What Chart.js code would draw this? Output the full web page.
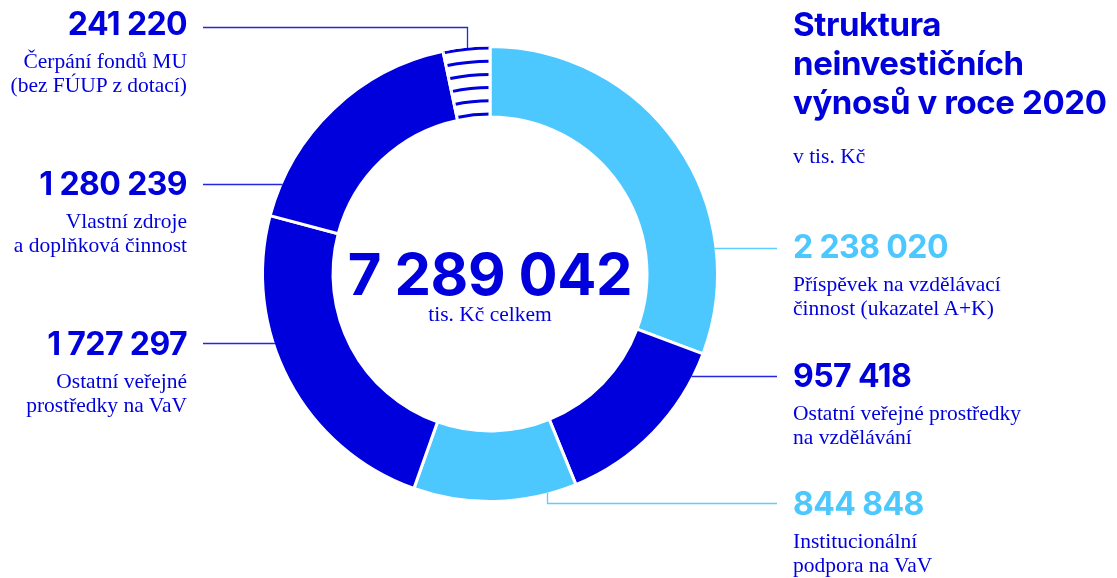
<!DOCTYPE html>
<html lang="cs">
<head>
<meta charset="utf-8">
<title>Struktura neinvestičních výnosů v roce 2020</title>
<script src="https://cdn.jsdelivr.net/npm/chart.js@4.4.1/dist/chart.umd.min.js"></script>
<style>
  html, body { margin: 0; padding: 0; background: #fff; }
  #wrap { position: relative; width: 1117px; height: 578px; overflow: hidden; color: #0000dc; }
  #chart { position: absolute; left: 0; top: 0; }
  .num { font-family: Inter, 'Noto Sans', sans-serif; font-weight: 700; font-size: 32px; line-height: 32px; letter-spacing: -0.6px; white-space: nowrap; }
  .desc { font-family: 'Liberation Serif', serif; font-size: 21.5px; line-height: 24px; margin-top: 9px; white-space: nowrap; }
  .label { position: absolute; }
  .label.left { right: 930px; text-align: right; }
  .label.right { left: 793px; text-align: left; }
  #title { position: absolute; left: 793px; top: 5px; font-family: Inter, sans-serif; font-weight: 700; font-size: 33px; line-height: 39px; letter-spacing: -0.4px; }
  #unit { position: absolute; left: 793px; top: 144px; font-family: 'Liberation Serif', serif; font-size: 21.5px; line-height: 24px; }
  #total { position: absolute; left: 290px; width: 400px; top: 245px; text-align: center; font-family: Inter, sans-serif; font-weight: 700; font-size: 58px; line-height: 58px; letter-spacing: -0.4px; }
  #totalNote { position: absolute; left: 290px; width: 400px; top: 302px; text-align: center; font-family: 'Liberation Serif', serif; font-size: 21.5px; line-height: 24px; }
</style>
</head>
<body>
<div id="wrap">
  <canvas id="chart" width="1117" height="578"></canvas>
  <div id="title">Struktura<br>neinvestičních<br>výnosů v roce 2020</div>
  <div id="unit">v tis. Kč</div>
  <div id="total"></div>
  <div id="totalNote">tis. Kč celkem</div>
  <div id="labels"></div>
</div>
<script>
const DARK = '#0000dc';
const LIGHT = '#4dc8ff';

// data, clockwise from 12 o'clock
const CATEGORIES = [
  ['Příspěvek na vzdělávací', 'činnost (ukazatel A+K)'],
  ['Ostatní veřejné prostředky', 'na vzdělávání'],
  ['Institucionální', 'podpora na VaV'],
  ['Ostatní veřejné', 'prostředky na VaV'],
  ['Vlastní zdroje', 'a doplňková činnost'],
  ['Čerpání fondů MU', '(bez FÚUP z dotací)'],
];
const VALUES = [2238020, 957418, 844848, 1727297, 1280239, 241220];
const KINDS = ['light', 'dark', 'light', 'dark', 'dark', 'hatch'];

// label layout
const LABEL_SIDE = ['right', 'right', 'right', 'left', 'left', 'left'];
const LABEL_TOP = [231, 360, 488, 328, 168, 8];
const LEADER_Y = [248, 376, 503, 343, 184, 27];
const LEADER_ELBOW = [null, null, 0.18, null, null, 0.5];
const LEADER_LEFT_X = 203;
const LEADER_RIGHT_X = 777;

const BORDER = 3;
const STRIPES = 6;
const STRIPE_WIDTH = 3;

function fmt(v) {
  return String(v).replace(/\B(?=(\d{3})+(?!\d))/g, ' ');
}

function fillOf(kind) {
  if (kind === 'light') return LIGHT;
  if (kind === 'dark') return DARK;
  return '#ffffff';
}

function arcProps(arc) {
  return arc.getProps(['x', 'y', 'startAngle', 'endAngle', 'innerRadius', 'outerRadius'], true);
}

const leaderPlugin = {
  id: 'leaders',
  afterDatasetsDraw(chart) {
    const meta = chart.getDatasetMeta(0);
    const ctx = chart.ctx;
    VALUES.forEach((v, i) => {
      const { x: cx, y: cy, startAngle, endAngle, outerRadius } = arcProps(meta.data[i]);
      const edge = outerRadius - BORDER / 2;
      const ly = LEADER_Y[i] + 0.5;
      const left = LABEL_SIDE[i] === 'left';
      const from = left ? LEADER_LEFT_X : LEADER_RIGHT_X;
      ctx.save();
      ctx.strokeStyle = KINDS[i] === 'light' ? 'rgba(77,200,255,0.9)' : 'rgba(0,0,220,0.85)';
      ctx.lineWidth = 1.3;
      ctx.beginPath();
      if (LEADER_ELBOW[i] != null) {
        const a = startAngle + (endAngle - startAngle) * LEADER_ELBOW[i];
        const px = Math.round(cx + Math.cos(a) * edge) + 0.5;
        const py = cy + Math.sin(a) * edge;
        ctx.moveTo(from, ly);
        ctx.lineTo(px, ly);
        ctx.lineTo(px, py);
      } else {
        const dy = ly - cy;
        const dx = Math.sqrt(edge * edge - dy * dy);
        ctx.moveTo(from, ly);
        ctx.lineTo(left ? cx - dx : cx + dx, ly);
      }
      ctx.stroke();
      ctx.restore();
    });
  }
};

const hatchPlugin = {
  id: 'hatch',
  afterDatasetsDraw(chart) {
    const meta = chart.getDatasetMeta(0);
    const ctx = chart.ctx;
    KINDS.forEach((kind, i) => {
      if (kind !== 'hatch') return;
      const { x, y, startAngle, endAngle, innerRadius, outerRadius } = arcProps(meta.data[i]);
      ctx.save();
      ctx.beginPath();
      ctx.arc(x, y, outerRadius, startAngle, endAngle);
      ctx.arc(x, y, innerRadius, endAngle, startAngle, true);
      ctx.closePath();
      ctx.clip();
      ctx.strokeStyle = DARK;
      ctx.lineWidth = STRIPE_WIDTH;
      const top = outerRadius - STRIPE_WIDTH / 2;
      const bottom = innerRadius + BORDER / 2 + STRIPE_WIDTH / 2;
      const step = (top - bottom) / (STRIPES - 1);
      for (let k = 0; k < STRIPES; k++) {
        ctx.beginPath();
        ctx.arc(x, y, top - k * step, startAngle, endAngle);
        ctx.stroke();
      }
      // keep the white gaps along the radial edges
      ctx.strokeStyle = '#ffffff';
      ctx.lineWidth = BORDER;
      [startAngle, endAngle].forEach(a => {
        ctx.beginPath();
        ctx.moveTo(x + Math.cos(a) * innerRadius, y + Math.sin(a) * innerRadius);
        ctx.lineTo(x + Math.cos(a) * outerRadius, y + Math.sin(a) * outerRadius);
        ctx.stroke();
      });
      ctx.restore();
    });
  }
};

function renderLabels() {
  document.getElementById('total').textContent = fmt(VALUES.reduce((s, v) => s + v, 0));
  document.getElementById('labels').innerHTML = VALUES.map((v, i) => `
    <div class="label ${LABEL_SIDE[i]}" style="top:${LABEL_TOP[i]}px">
      <div class="num" style="color:${KINDS[i] === 'light' ? LIGHT : DARK}">${fmt(v)}</div>
      <div class="desc">${CATEGORIES[i].join('<br>')}</div>
    </div>
  `).join('');
}

function renderChart() {
  new Chart(document.getElementById('chart'), {
    type: 'doughnut',
    data: {
      labels: CATEGORIES.map(c => c.join(' ')),
      datasets: [{
        data: VALUES,
        backgroundColor: KINDS.map(fillOf),
        borderColor: '#ffffff',
        borderWidth: BORDER,
        hoverOffset: 0
      }]
    },
    options: {
      responsive: false,
      animation: false,
      events: [],
      cutout: '69%',
      layout: { padding: { top: 45, bottom: 75, left: 0, right: 137 } },
      plugins: { legend: { display: false }, tooltip: { enabled: false } }
    },
    plugins: [leaderPlugin, hatchPlugin]
  });
}

renderLabels();
renderChart();
</script>
</body>
</html>
